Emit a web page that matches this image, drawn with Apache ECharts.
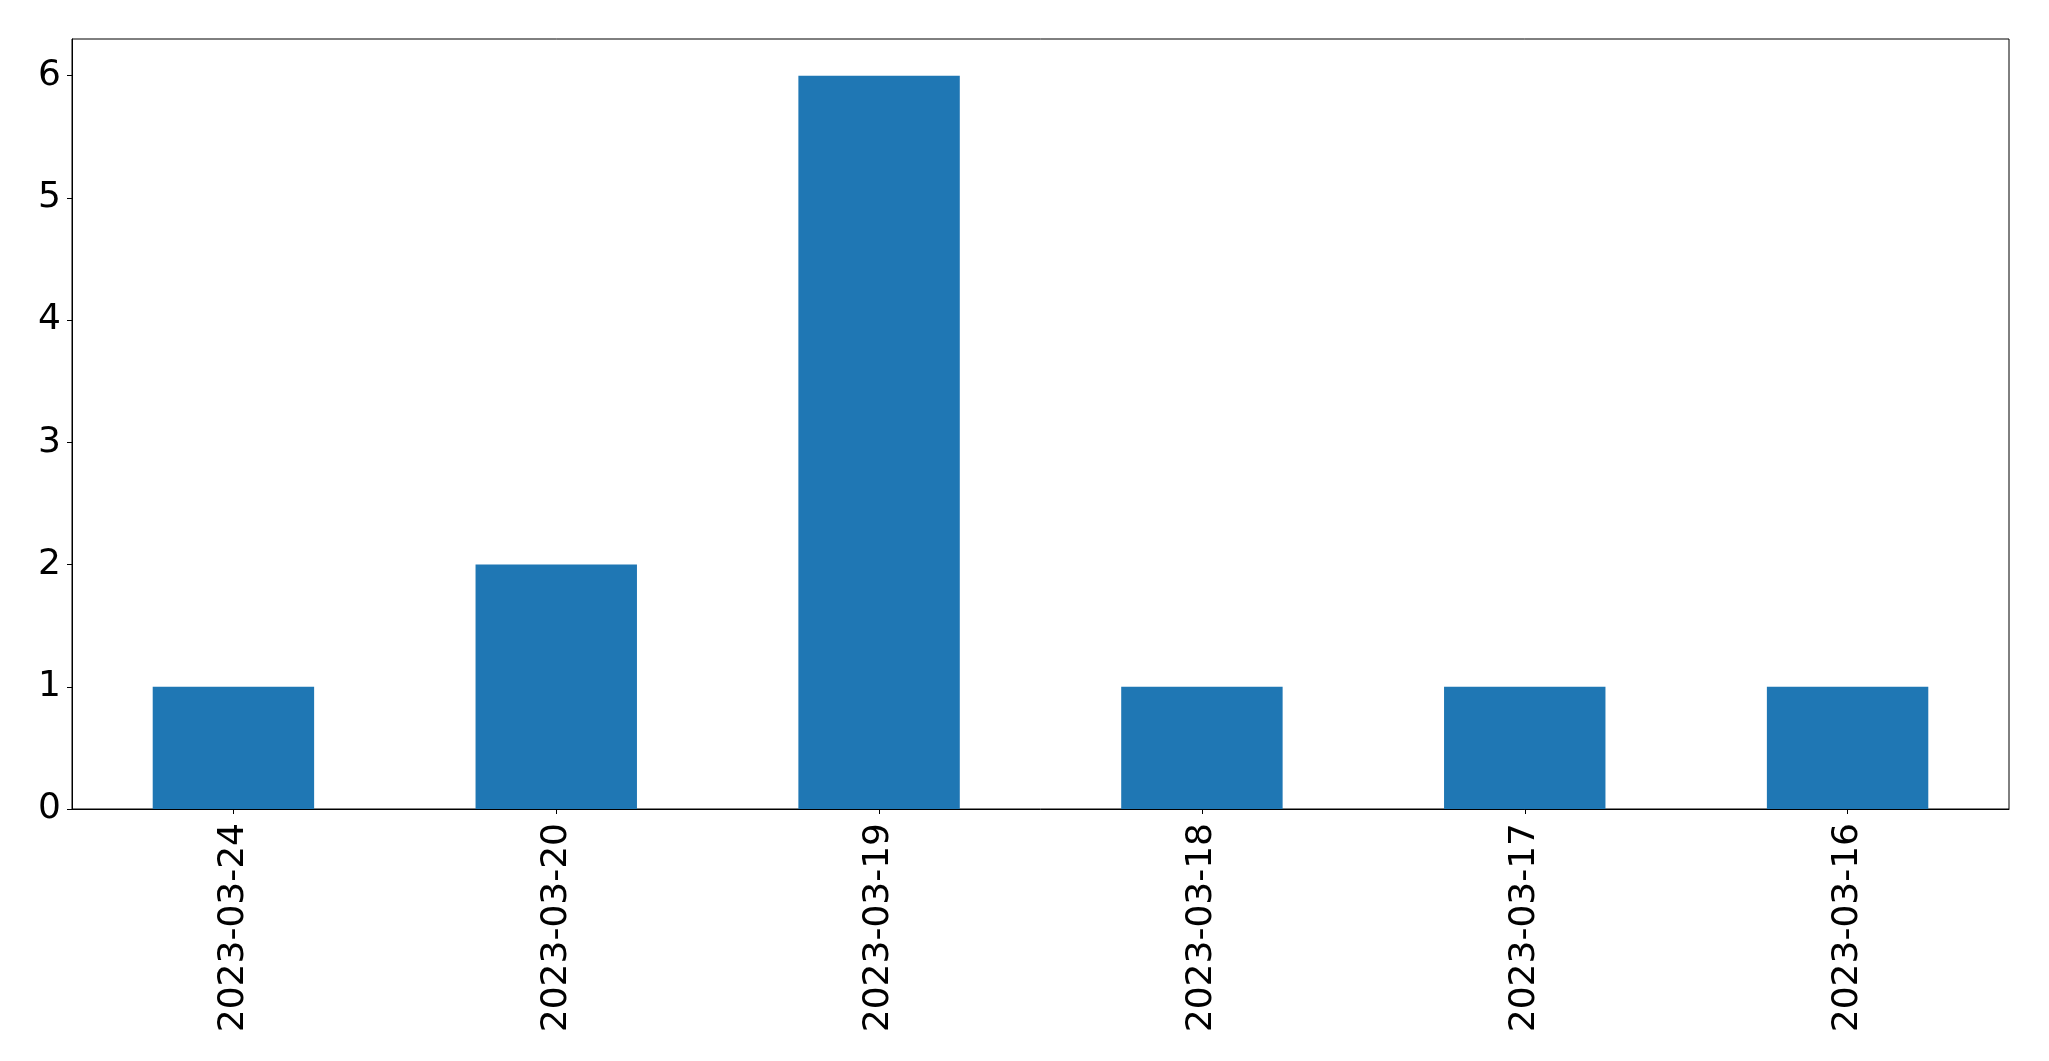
<!DOCTYPE html>
<html>
<head>
<meta charset="utf-8">
<script src="https://cdn.jsdelivr.net/npm/echarts@6/dist/echarts.min.js"></script>
<style>
html,body{margin:0;padding:0;background:#fff;}
#chart{width:2049px;height:1061px;}
</style>
</head>
<body>
<div id="chart"></div>
<script>
const categories = ['2023-03-24','2023-03-20','2023-03-19','2023-03-18','2023-03-17','2023-03-16'];
const counts = [1, 2, 6, 1, 1, 1];
const yTicks = [0, 1, 2, 3, 4, 5, 6];

const chart = echarts.init(document.getElementById('chart'), null, {renderer: 'canvas'});
chart.setOption({
  animation: false,
  backgroundColor: '#ffffff',
  textStyle: {fontFamily: 'DejaVu Sans'},
  grid: {
    left: 72, right: 40, top: 39, bottom: 252,
    show: true, borderColor: '#000', borderWidth: 1, backgroundColor: 'transparent'
  },
  xAxis: {
    type: 'category',
    data: categories,
    axisLine: {show: true, lineStyle: {color: '#000', width: 1}},
    axisTick: {show: true, alignWithLabel: true, length: 5, lineStyle: {color: '#000', width: 1}},
    axisLabel: {rotate: 90, fontSize: 36, color: '#000', margin: 14, fontFamily: 'DejaVu Sans'},
    splitLine: {show: false}
  },
  yAxis: {
    type: 'value',
    min: 0, max: 6.3, interval: 1,
    axisLine: {show: true, lineStyle: {color: '#000', width: 1}},
    axisTick: {show: true, length: 5, lineStyle: {color: '#000', width: 1}, customValues: yTicks},
    axisLabel: {fontSize: 36, color: '#000', margin: 11, fontFamily: 'DejaVu Sans', customValues: yTicks},
    splitLine: {show: false}
  },
  series: [{
    type: 'bar',
    data: counts,
    barWidth: '50%',
    itemStyle: {color: '#1f77b4'}
  }]
});
</script>
</body>
</html>
